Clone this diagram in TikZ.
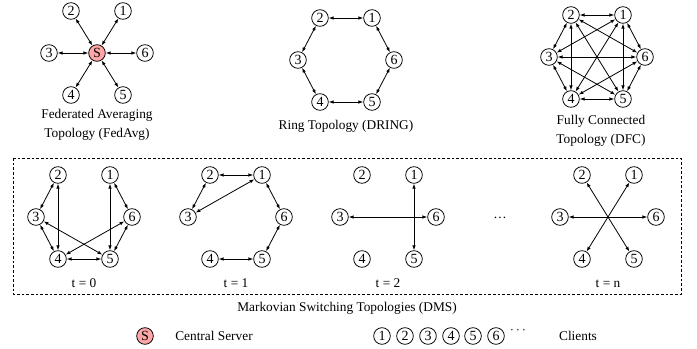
\documentclass[tikz,border=0pt]{standalone}
\usepackage{fontspec}
\setmainfont{Liberation Serif}
\usetikzlibrary{arrows.meta}

% six clients on a hexagon round the scope origin
\newcommand{\hexclients}[1]{%
    \node[client] (#11) at (26,-42) {1};
    \node[client] (#12) at (-26,-42) {2};
    \node[client] (#13) at (-48,0) {3};
    \node[client] (#14) at (-26,42) {4};
    \node[client] (#15) at (26,42) {5};
    \node[client] (#16) at (48,0) {6};
}

\begin{document}
\begin{tikzpicture}[x=0.75pt,y=-0.75pt,join=round,line width=0.6pt]
    \tikzstyle{client} = [draw,circle,minimum size=12.5pt,inner sep=0pt,font=\fontsize{10.5}{12}\selectfont]
    \tikzstyle{server} = [client,fill=red!35]
    \tikzstyle{biarr} = [{Latex[length=3.6pt,width=2.6pt]}-{Latex[length=3.6pt,width=2.6pt]}]
    \tikzstyle{ann} = [font=\fontsize{10}{14}\selectfont,align=center]
    \tikzstyle{boxline} = [dash pattern=on 2pt off 1.5pt,line width=0.5pt]

    \useasboundingbox (0,0) rectangle (697,349);

    % Federated averaging
\begin{scope}[shift={(97,53)}]
    \hexclients{fa}
    \node[server] (faS) at (0,0) {S};
    \draw[biarr] (faS) edge (fa1) edge (fa2) edge (fa3)
                       edge (fa4) edge (fa5) edge (fa6);
\end{scope}
    \node[ann] (fatext) at (97,125) {Federated Averaging\\Topology (FedAvg)};

    % Ring
\begin{scope}[shift={(346,60)}]
    \hexclients{r}
    \draw[biarr] (r1) edge (r2) edge (r6) (r5) edge (r6) edge (r4)
                 (r3) edge (r4) edge (r2);
\end{scope}
    \node[ann] (rtext) at (346,126) {Ring Topology (DRING)};

    % Fully connected
\begin{scope}[shift={(597,57)}]
    \hexclients{fc}
    \draw[biarr] (fc1) edge (fc2) edge (fc3) edge (fc4) edge (fc5) edge (fc6)
                 (fc2) edge (fc3) edge (fc4) edge (fc5) edge (fc6)
                 (fc3) edge (fc4) edge (fc5) edge (fc6)
                 (fc4) edge (fc5) edge (fc6)
                 (fc5) edge (fc6);
\end{scope}
    \node[ann] (fctext) at (601,131) {Fully Connected\\Topology (DFC)};

    % Markovian switching
    \draw[boxline] (13,158) rectangle (681,294);

\begin{scope}[shift={(84,217)}]
    \hexclients{a}
    \draw[biarr] (a2) edge (a3) edge (a4) (a3) edge (a4) edge (a5)
                 (a4) edge (a5) edge (a6) (a1) edge (a5) edge (a6)
                 (a6) edge (a5);
    \node[ann] (atext) at (0,66) {t = 0};
\end{scope}

\begin{scope}[shift={(236,217)}]
    \hexclients{b}
    \draw[biarr] (b1) edge (b2) edge (b3) edge (b6) (b2) edge (b3)
                 (b6) edge (b5) (b4) edge (b5);
    \node[ann] (btext) at (0,66) {t = 1};
\end{scope}

\begin{scope}[shift={(388,217)}]
    \hexclients{c}
    \draw[biarr] (c3) edge (c6) (c1) edge (c5);
    \node[ann] (ctext) at (0,66) {t = 2};
\end{scope}

    \node[ann] (dots) at (500,218) {\dots};

\begin{scope}[shift={(608,217)}]
    \hexclients{n}
    \draw[biarr] (n3) edge (n6) (n2) edge (n5) (n1) edge (n4);
    \node[ann] (ntext) at (0,67) {t = n};
\end{scope}
    \node[ann] (dmstext) at (347,308) {Markovian Switching Topologies (DMS)};

    % legend
    \node[server] (legS) at (145,336) {S};
    \node[ann] (legStext) at (214,336) {Central Server};
    \node[client] (leg1) at (382,336) {1};
    \node[client] (leg2) at (405,336) {2};
    \node[client] (leg3) at (428,336) {3};
    \node[client] (leg4) at (451,336) {4};
    \node[client] (leg5) at (473,336) {5};
    \node[client] (leg6) at (496,336) {6};
    \node[ann] (legdots) at (518,331) {$\cdots$};
    \node[ann] (legctext) at (578,336) {Clients};
\end{tikzpicture}
\end{document}
